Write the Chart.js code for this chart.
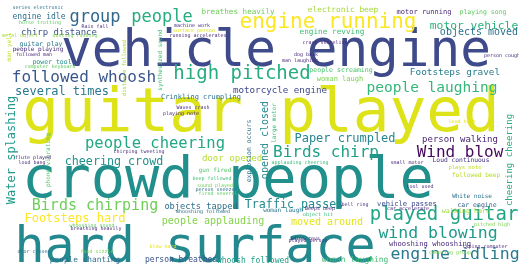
<!DOCTYPE html>
<html><head><meta charset="utf-8">
<script src="https://cdn.jsdelivr.net/npm/chart.js@4/dist/chart.umd.min.js"></script>
<style>html,body{margin:0;padding:0;background:#fff;overflow:hidden}#wrap{width:519px;height:266px}</style>
</head><body><div id="wrap"><canvas id="c" width="519" height="266"></canvas></div>
<script>
// words of the cloud
const words = ["vehicle engine","guitar played","crowd people","hard surface","engine running","high pitched","people laughing","played guitar","wind blowing","engine idling",
"Birds chirping","people cheering","Birds chirp","Wind blow","followed whoosh","group","people","several times","Footsteps hard","cheering crowd",
"Paper crumpled","Traffic passes","motor vehicle","objects moved","Footsteps gravel","people applauding","door opened","moved around","motorcycle engine","chirp distance",
"person walking","objects tapped","Crinkling crumpling","engine idle","power tool","guitar play","people playing","breathes heavily","electronic beep","motor running",
"playing song","engine revving","people screaming","woman laugh","whoosh followed","people chanting","person breathes","woman laughing","whooshing whooshing","vehicle passes",
"White noise","car engine","walking hard","Loud continuous","plays note","followed beep","woman laugh","gun fired","person cough","man laughing",
"Water splashing","opened closed","explosion occurs","large motor","synthesized sound","man yell","distance followed","cheering cheering","phone vibrating",
"series electronic","horse trotting","Rain fall","metal object","dusting rushing","followed man","computer keyboard","machine work","surface person","running accelerates",
"Waves crash","playing note","flute played","loud bang","chirping tweeting","whooshing sound","breathing heavily","door closed","food sizzle","sound played",
"person sneeze","whooshing followed","blow hard","Beeps beep","object hit","bell ring","played person","tool used","car accelerate","pitched high",
"typing computer","cheering group","loud high","small motor","crash shoreline","dog bark","applauding cheering","fired several","beep followed","idles revs"];
// weight of each word (font size in px)
const weights = [51,61,57,50,21,19,14.5,19,16.5,16.5,
15,15.5,16,16,16,17,17,12,12,11.7,
12,11.7,11.3,10,9.4,10,9.1,10,9.2,9,
9,8.7,7,8,6.5,6.5,6,7.6,7.8,7,
6.5,7.7,6.6,7,8,7.8,8,7.9,7.2,7.1,
6,6.5,6.7,6.3,5.5,6.2,6,6,5,5,
12,10,6.5,6,6,6,5.5,9,6,
5,5,5,5,5,5,5,5,5,5,
5,5,5,5,5,5,5,5,5,5,
5,5,5,5,5,5,5,5,5,5,
5,5,5,5,5,5,5,5,5,5];
// layout coordinates (horizontal words: centre x / baseline y; vertical words: centre)
const layoutX = [276,261,228,195,328,242,432,444,438,455,
95,155,326,460,84,95,162,62,75,114,
345,294,474,479,455,213,232,327,280,59,
460,201,201,39,52,41,38,238,343,424,
483,332,341,340,253,85,181,355,430,407,
472,477,466,461,465,476,283,215,502,300,
12,265,249,274,160,9,125,510,48,
38,40,95,20,75,34,50,192,194,198,
193,181,33,32,139,92,96,34,97,215,
215,203,163,320,318,355,308,420,408,492,
485,450,462,407,325,306,300,218,212,305];
const layoutY = [66,131,197,262,28,79,92,220,238,259,
210,148,157,157,82,22,22,95,222,165,
142,208,29,35,75,224,161,225,93,35,
142,209,99,19,64,46,51,14,12,14,
14,34,72,81,263,262,262,262,246,206,
198,207,213,162,169,177,212,172,57,62,
150,140,151,123,60,47,68,160,160,
9,24,28,37,37,56,68,27,32,37,
109,115,159,164,153,227,230,253,253,187,
191,213,248,210,216,206,242,188,210,226,
248,254,123,164,44,56,164,195,180,240];
// 1 = rotated word
const rotated = [0,0,0,0,0,0,0,0,0,0, 0,0,0,0,0,0,0,0,0,0, 0,0,0,0,0,0,0,0,0,0, 0,0,0,0,0,0,0,0,0,0,
0,0,0,0,0,0,0,0,0,0, 0,0,0,0,0,0,0,0,0,0, 1,1,1,1,1,1,1,1,1,
0,0,0,0,0,0,0,0,0,0, 0,0,0,0,0,0,0,0,0,0, 0,0,0,0,0,0,0,0,0,0, 0,0,0,0,0,0,0,0,0,0];
const palette = ["#3e4a89","#dde318","#21908d","#23898e","#fde725","#27ad81","#35b779","#20a486","#1e9b8a","#2a788e",
"#6ece58","#22a884","#1fa187","#46085c","#39568c","#31688e","#26ad81","#2a788e","#fde725","#20928c",
"#24868e","#23898e","#2db27d","#2c728e","#287d8e","#84d44b","#b5de2b","#e2e418","#3e4989","#3b528b",
"#482475","#2d708e","#2c728e","#2c728e","#21918c","#2a788e","#472d7b","#6ece58","#a2da37","#482878",
"#5ec962","#3fbc73","#4ac16d","#7ad151","#1fa187","#2e6f8e","#3b528b","#3fbc73","#482878","#3e4989",
"#2c728e","#34618d","#a0da39","#46307e","#c2df23","#b8de29","#2a788e","#54c568","#472d7b","#482878",
"#1f9a8a","#23898e","#2d708e","#3aba76","#3fbc73","#c0df25","#a5db36","#25ac82","#54c568",
"#2c728e","#5ec962","#472d7b","#a0da39","#7ad151","#482878","#5ec962","#472d7b","#e2e418","#482878",
"#472d7b","#482878","#482878","#472d7b","#472d7b","#5ec962","#482878","#2c728e","#7ad151","#6ece58",
"#2c728e","#2c728e","#e2e418","#482878","#35b779","#472d7b","#482878","#472d7b","#482878","#7ad151",
"#482878","#7ad151","#e2e418","#482878","#482878","#482878","#35b779","#5ec962","#3fbc73","#482878"];

const FONT = '"DejaVu Sans Mono", "Liberation Mono", monospace';
const wordPlugin = {
  id: 'wordText',
  afterDatasetsDraw(chart) {
    const ctx = chart.ctx;
    const meta = chart.getDatasetMeta(0);
    meta.data.forEach((pt, i) => {
      ctx.save();
      ctx.font = weights[i] + 'px ' + FONT;
      ctx.fillStyle = palette[i];
      ctx.textAlign = 'center';
      if (rotated[i]) {
        ctx.translate(pt.x, pt.y);
        ctx.rotate(-Math.PI / 2);
        ctx.textBaseline = 'middle';
        ctx.fillText(words[i], 0, 0);
      } else {
        ctx.textBaseline = 'alphabetic';
        ctx.fillText(words[i], pt.x, pt.y);
      }
      ctx.restore();
    });
  }
};

new Chart(document.getElementById('c'), {
  type: 'scatter',
  data: {
    labels: words,
    datasets: [{
      data: words.map((w, i) => ({ x: layoutX[i], y: layoutY[i] })),
      pointRadius: 0,
      pointHoverRadius: 0
    }]
  },
  options: {
    responsive: false,
    animation: false,
    layout: { padding: 0 },
    plugins: { legend: { display: false }, tooltip: { enabled: false } },
    scales: {
      x: { type: 'linear', min: 0, max: 519, display: false },
      y: { type: 'linear', min: 0, max: 266, reverse: true, display: false }
    }
  },
  plugins: [wordPlugin]
});
</script></body></html>
